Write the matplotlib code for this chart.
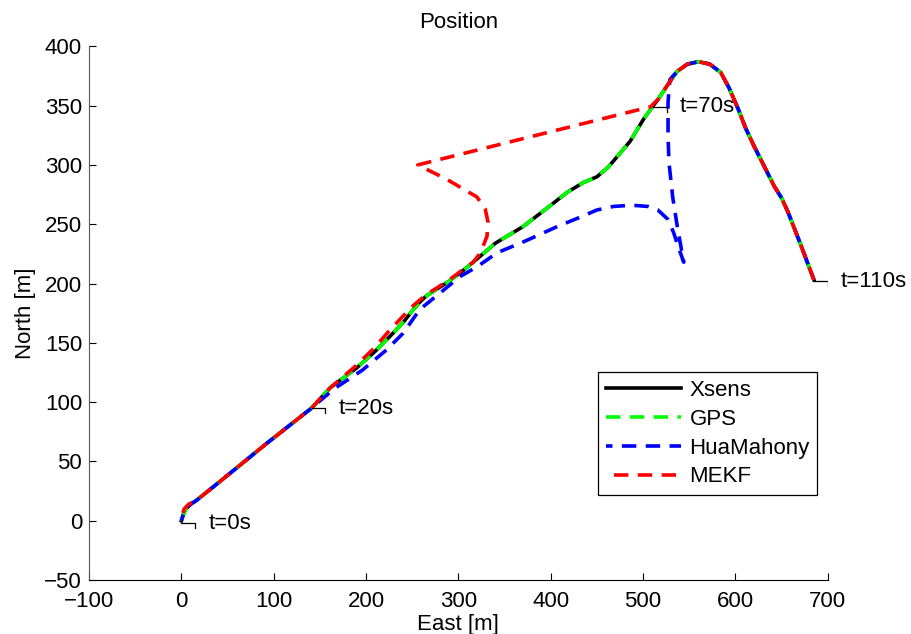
import matplotlib
matplotlib.use('Agg')
import matplotlib.pyplot as plt
import numpy as np

plt.rcParams['font.family'] = ['Liberation Sans', 'DejaVu Sans']

# Xsens reference track [m]
xsens_e = [0, 2, 5, 10, 16, 40, 92, 141, 161, 190, 210, 229, 241, 251, 259, 266, 276, 288,
           302, 316, 340, 370, 395, 418, 435, 450, 462, 472, 486, 500, 511, 516, 527, 537,
           548, 560, 572, 584, 593, 603, 611, 620, 631, 642, 650, 657, 671, 685]
xsens_n = [0, 5, 10, 14, 17, 32, 65, 95, 112, 129, 143, 158, 168, 178, 185, 190, 195, 201,
           209, 218, 234, 248, 263, 277, 285, 290, 298, 307, 320, 338, 350, 355, 368, 379,
           385, 387, 385, 378, 365, 347, 331, 316, 299, 282, 272, 260, 232, 203]
gps_e = xsens_e
gps_n = xsens_n

# HuaMahony estimate
hua_e = [0, 2, 5, 10, 16, 40, 92, 141, 165, 196, 222, 240, 258, 280, 302, 320, 342, 370,
         390, 407, 432, 450, 468, 488, 505, 516, 527, 533, 538, 544, 537, 532, 528, 527,
         527, 529, 537, 548, 560, 572, 584, 593, 603, 611, 620, 631, 642, 650, 657, 671, 685]
hua_n = [0, 5, 10, 14, 17, 32, 65, 95, 111, 127, 144, 158, 178, 192, 206, 214, 226, 235,
         242, 248, 256, 262, 265, 266, 265, 262, 254, 243, 231, 218, 248, 273, 302, 324,
         353, 372, 379, 385, 387, 385, 378, 365, 347, 331, 316, 299, 282, 272, 260, 232, 203]

# MEKF estimate
mekf_e = [0, 1, 3, 8, 16, 40, 92, 141, 161, 188, 208, 226, 237, 249, 258, 266, 276, 288,
          302, 316, 324, 331, 332, 329, 320, 287, 256, 508, 516, 527, 537, 548, 560, 572,
          584, 593, 603, 611, 620, 631, 642, 650, 657, 671, 685]
mekf_n = [0, 5, 10, 14, 17, 32, 65, 95, 112, 130, 145, 161, 170, 180, 186, 191, 196, 202,
          210, 218, 226, 240, 252, 263, 273, 288, 300, 349, 355, 368, 379, 385, 387, 385,
          378, 365, 347, 331, 316, 299, 282, 272, 260, 232, 203]

# time markers on the Xsens track
mark_t = ['t=0s', 't=20s', 't=70s', 't=110s']
mark_e = [0, 141, 511, 685]
mark_n = [-2, 95, 349, 202]

fig = plt.figure(figsize=(9.11, 6.34), dpi=100)
ax = fig.add_axes([0.0977, 0.085, 0.811, 0.842])

lw = 2.6
ax.plot(xsens_e, xsens_n, color='black', lw=lw, label='Xsens')
ax.plot(gps_e, gps_n, color='#00ff00', lw=lw, linestyle=(0, (4, 2.6)), label='GPS')
ax.plot(hua_e, hua_n, color='blue', lw=lw, linestyle=(2.2, (4, 2.6)), label='HuaMahony')
ax.plot(mekf_e, mekf_n, color='red', lw=lw, linestyle=(4.4, (4, 2.6)), label='MEKF')

for t, e, n in zip(mark_t, mark_e, mark_n):
    ax.plot([e, e + 15, e + 15], [n, n, n - 4], color='black', lw=0.9)
    ax.text(e + 29, n, t, fontsize=16, va='center', ha='left')

ax.set_xlim(-100, 700)
ax.set_ylim(-50, 400)
ax.set_xticks(np.arange(-100, 701, 100))
ax.set_yticks(np.arange(-50, 401, 50))
ax.set_xticklabels(['\u2212100', '0', '100', '200', '300', '400', '500', '600', '700'])
ax.set_yticklabels(['\u221250', '0', '50', '100', '150', '200', '250', '300', '350', '400'])
ax.tick_params(direction='in', length=5, width=0.8, labelsize=16)
ax.tick_params(axis='x', pad=8)
ax.tick_params(axis='y', pad=5)
ax.spines['top'].set_visible(False)
ax.spines['right'].set_visible(False)
ax.spines['left'].set_color('#555555')

ax.set_title('Position', fontsize=16, pad=13)
ax.set_xlabel('East [m]', fontsize=16, va='center')
ax.xaxis.set_label_coords(0.5, -0.083)
ax.set_ylabel('North [m]', fontsize=16, labelpad=6)

leg = ax.legend(loc='upper left', bbox_to_anchor=(0.689, 0.3895), fontsize=16,
                handlelength=3.4, handletextpad=0.36, fancybox=False, edgecolor='black',
                borderpad=0.35, labelspacing=0.35, borderaxespad=0, framealpha=1)
leg.get_frame().set_linewidth(0.9)

fig.savefig('out.png', dpi=100)
